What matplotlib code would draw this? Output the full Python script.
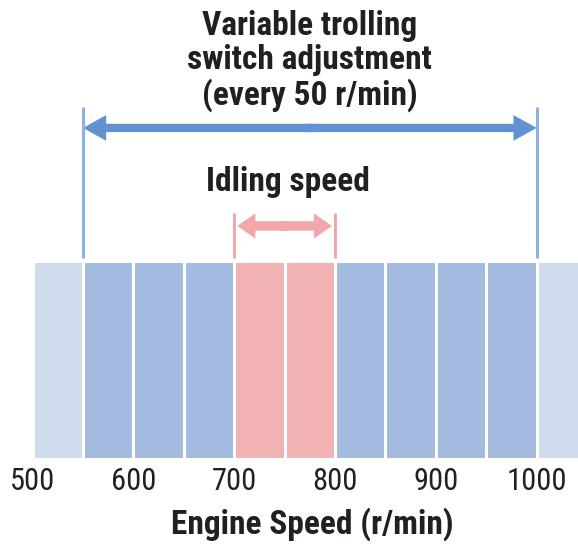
import matplotlib
matplotlib.use("Agg")
import matplotlib.pyplot as plt
from matplotlib.patches import FancyArrow

# speed bins (r/min), each 50 wide
bin_starts = [500, 550, 600, 650, 700, 750, 800, 850, 900, 950, 1000]
bin_zone = ["out", "adj", "adj", "adj", "idle", "idle", "adj", "adj", "adj", "adj", "out"]
bin_width = 50

adjust_range = [550, 1000]
idle_range = [700, 800]

tick_values = [500, 600, 700, 800, 900, 1000]
tick_labels = ["500", "600", "700", "800", "900", "1000"]

title_text = "Variable trolling\nswitch adjustment\n(every 50 r/min)"
idle_text = "Idling speed"
xlabel_text = "Engine Speed (r/min)"

zone_colors = {"out": "#cfdcee", "adj": "#a3bbdf", "idle": "#f2b1b2"}
blue_arrow = "#6193d2"
blue_line = "#8fb0df"
pink_arrow = "#f2a8aa"
pink_line = "#f0a3a5"
ink = "#231f20"

plt.rcParams["font.family"] = ["Roboto Condensed", "Archivo Narrow", "DejaVu Sans"]

fig = plt.figure(figsize=(5.78, 5.44), dpi=100)
# axes covers only the bar strip; annotations sit above it (y > 1)
ax = fig.add_axes([0, (544 - 459) / 544, 1, 198 / 544])
ax.set_xlim(467.7, 1041)
ax.set_ylim(0, 1)

for x0, z in zip(bin_starts, bin_zone):
    ax.bar(x0, 1, width=bin_width, align="edge", color=zone_colors[z],
           edgecolor="white", linewidth=2.2)

for s in ax.spines.values():
    s.set_visible(False)
ax.set_yticks([])
ax.set_xticks(tick_values)
ax.set_xticklabels(tick_labels, fontsize=22, color=ink)
ax.tick_params(axis="x", length=0, pad=6)
ax.set_xlabel(xlabel_text, fontsize=24, fontweight="bold", color=ink, labelpad=8)
ax.xaxis.label.set_x(0.54)


def double_arrow(lo, hi, y, width, head_width, head_length, color):
    mid = (lo + hi) / 2
    for start, end in [(mid - 4, hi), (mid + 4, lo)]:
        ax.add_patch(FancyArrow(start, y, end - start, 0, width=width,
                                head_width=head_width, head_length=head_length,
                                length_includes_head=True, lw=0, color=color,
                                clip_on=False))


# adjustment range markers
for x in adjust_range:
    ax.plot([x, x], [1.015, 1.778], color=blue_line, lw=2.2, clip_on=False,
            solid_capstyle="butt")
double_arrow(adjust_range[0], adjust_range[1], 1.672, 0.042, 0.13, 23, blue_arrow)

# idle range markers
for x in idle_range:
    ax.plot([x, x], [1.015, 1.242], color=pink_line, lw=2, clip_on=False,
            solid_capstyle="butt")
double_arrow(idle_range[0] + 3, idle_range[1] - 3, 1.177, 0.048, 0.128, 18, pink_arrow)

ax.text(sum(idle_range) / 2 + 3, 1.399, idle_text, ha="center", va="center", fontsize=24,
        fontweight="bold", color=ink)
ax.text(775, 2.01, title_text, ha="center", va="center", fontsize=24,
        fontweight="bold", color=ink, linespacing=1.08)

fig.savefig("out.png", dpi=100, facecolor="white")
